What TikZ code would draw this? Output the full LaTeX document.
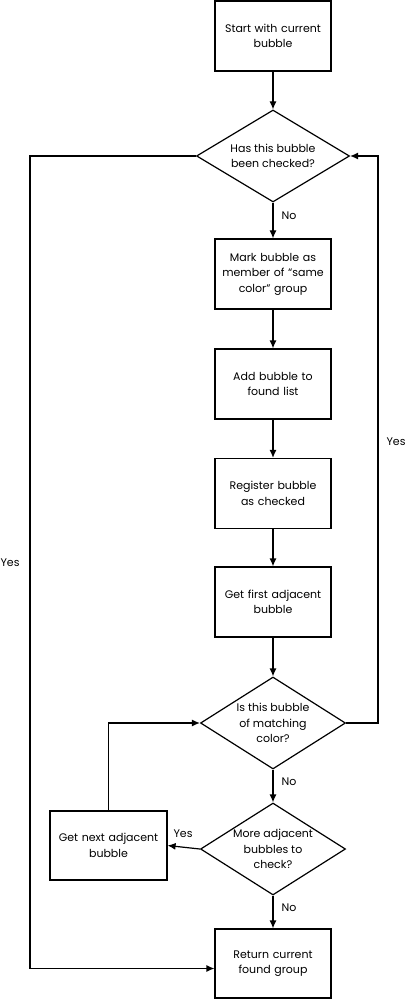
\documentclass[tikz,border=0pt]{standalone}
\usepackage{fontspec}
\setmainfont{Poppins}
\usetikzlibrary{shapes.geometric,arrows.meta}
\begin{document}
\begin{tikzpicture}[x=1pt,y=-1pt,
  font=\fontsize{11}{15.5}\selectfont,
  line width=1.2pt,
  box/.style={draw,rectangle,minimum width=116pt,minimum height=70pt,inner sep=0pt,align=center,text width=110pt},
  dia/.style={draw,diamond,minimum width=150pt,minimum height=92pt,inner sep=0pt},
  dtext/.style={inner sep=0pt,align=center},
  arr/.style={-{Latex[length=8pt,width=7pt]}},
  lbl/.style={inner sep=0pt}]
\useasboundingbox (0,0) rectangle (406,1000);
\node[box] (start) at (273,36) {Start with current\\bubble};
\node[dia,minimum width=153pt] (d1) at (273,156) {};
\node[dtext] (d1t) at (d1.center) {Has this bubble\\been checked?};
\node[box] (mark) at (273,274) {Mark bubble as\\member of “same\\color” group};
\node[box] (add) at (273,384) {Add bubble to\\found list};
\node[box] (reg) at (273,493.5) {Register bubble\\as checked};
\node[box] (first) at (273,602) {Get first adjacent\\bubble};
\node[dia,minimum width=145pt] (d2) at (273,723) {};
\node[dtext] (d2t) at (d2.center) {Is this bubble\\of matching\\color?};
\node[dia,minimum width=145pt] (d3) at (273,849) {};
\node[dtext] (d3t) at (d3.center) {More adjacent\\bubbles to\\check?};
\node[box,minimum width=117pt,minimum height=69pt] (next) at (108.5,845.5) {Get next adjacent\\bubble};
\node[box,minimum height=69pt] (ret) at (273,963.5) {Return current\\found group};
\coordinate (lc) at (30,156);
\coordinate (rc) at (378,723);
\draw[arr] (start) -- (d1);
\draw[arr] (d1) -- (mark);
\draw[arr] (mark) -- (add);
\draw[arr] (add) -- (reg);
\draw[arr] (reg) -- (first);
\draw[arr] (first) -- (d2);
\draw[arr] (d2) -- (d3);
\draw[arr] (d3) -- (ret);
\draw[arr] (d3.west) -- (next.east);
\draw[arr] (next.north) |- (d2.west);
\draw[arr] (d2.east) -- (rc) |- (d1.east);
\draw[arr] (d1.west) -- (lc) |- ([yshift=-5pt]ret.west);
\node[lbl,anchor=west] (n1) at (281,216) {No};
\node[lbl,anchor=west] (n2) at (281,782) {No};
\node[lbl,anchor=west] (n3) at (281,908) {No};
\node[lbl] (y1) at (396,442) {Yes};
\node[lbl] (y2) at (10,563) {Yes};
\node[lbl] (y3) at (183,834) {Yes};
\end{tikzpicture}
\end{document}
